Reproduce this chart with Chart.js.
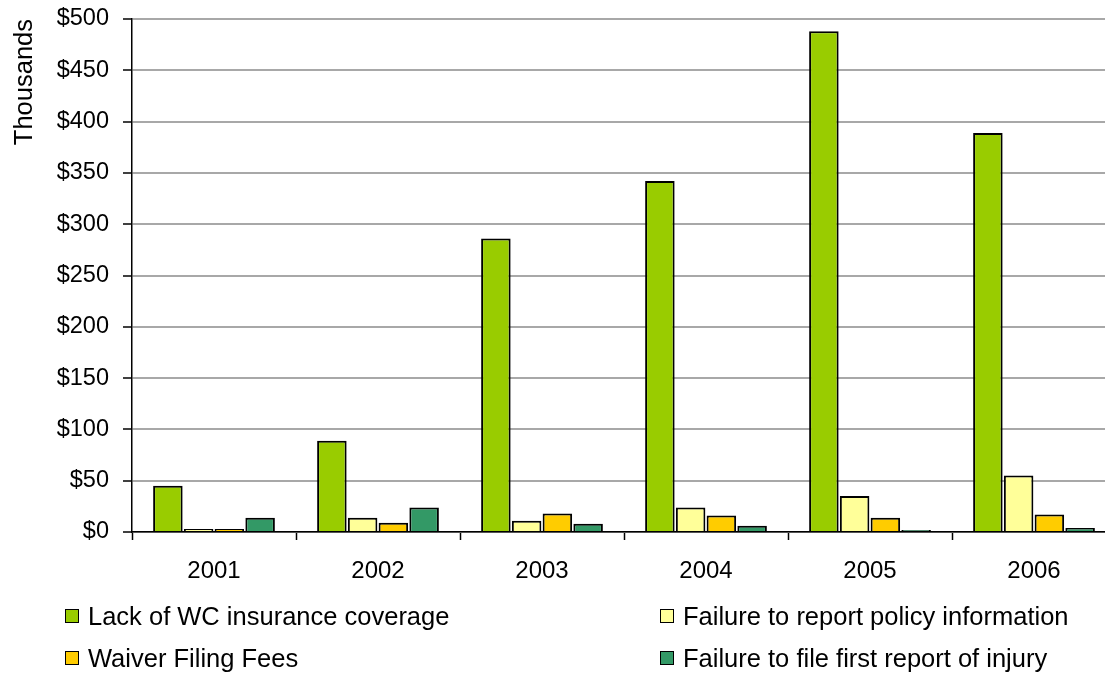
<!DOCTYPE html>
<html>
<head>
<meta charset="utf-8">
<script src="https://cdn.jsdelivr.net/npm/chart.js@4"></script>
<style>
  html, body { margin: 0; padding: 0; background: #fff; overflow: hidden; width: 1105px; height: 673px; }
  #wrap { position: absolute; left: 0; top: 0; width: 1116px; height: 600px; }
  #legend { position: absolute; left: 0; top: 0; width: 1105px; height: 673px; pointer-events: none;
            font-family: "Liberation Sans", Arial, sans-serif; font-size: 25.5px; color: #000; }
  .item { position: absolute; height: 30px; line-height: 30px; white-space: nowrap; }
  .box { position: absolute; left: 0; top: 8px; width: 12px; height: 12px; border: 1.5px solid #000; }
  .lbl { position: absolute; left: 23px; top: 0; }
</style>
</head>
<body>
<div id="wrap"><canvas id="c" width="1116" height="600"></canvas></div>
<div id="legend"></div>
<script>
const categories = ['2001', '2002', '2003', '2004', '2005', '2006'];
const seriesNames = [
  'Lack of WC insurance coverage',
  'Failure to report policy information',
  'Waiver Filing Fees',
  'Failure to file first report of injury'
];
const lackOfCoverage = [45, 89, 286, 342, 488, 389];
const failureReportPolicy = [3, 14, 11, 24, 35, 55];
const waiverFilingFees = [3, 9, 18, 16, 14, 17];
const failureFirstReport = [14, 24, 8, 6, 2, 4];
const seriesColors = ['#99CC00', '#FFFF99', '#FFCC00', '#339966'];
const yTickMin = 0, yTickMax = 500, yTickStep = 50;
const yTitle = 'Thousands';

const seriesValues = [lackOfCoverage, failureReportPolicy, waiverFilingFees, failureFirstReport];
const datasets = seriesValues.map((vals, i) => ({
  label: seriesNames[i],
  data: vals,
  backgroundColor: seriesColors[i],
  borderColor: '#000',
  borderWidth: 2,
  borderSkipped: 'bottom',
  categoryPercentage: 0.75,
  barPercentage: 0.96
}));

const FONT = '"Liberation Sans", Arial, sans-serif';

new Chart(document.getElementById('c'), {
  type: 'bar',
  data: { labels: categories, datasets },
  options: {
    responsive: false,
    animation: false,
    devicePixelRatio: 1,
    layout: { padding: { top: 19, left: 0, right: 0, bottom: 0 } },
    plugins: { legend: { display: false }, tooltip: { enabled: false } },
    scales: {
      x: {
        grid: { display: true, drawOnChartArea: false, drawTicks: true, tickLength: 8, tickColor: '#000', tickWidth: 1.5, offset: true },
        border: { display: true, color: '#000', width: 1.5 },
        ticks: { color: '#000', font: { family: FONT, size: 24 }, padding: 17, maxRotation: 0 },
        afterFit: (s) => { s.height = 68; s.paddingLeft = 0; s.paddingRight = 0; }
      },
      y: {
        min: yTickMin, max: yTickMax,
        grid: { color: '#a8a8a8', lineWidth: 2, tickColor: '#000', tickWidth: 1.5, tickLength: 9 },
        border: { display: true, color: '#000', width: 1.5 },
        ticks: { stepSize: yTickStep, color: '#000', font: { family: FONT, size: 23.5 }, padding: 14,
                 callback: (v) => '$' + v },
        title: { display: true, text: yTitle, align: 'end', color: '#000', font: { family: FONT, size: 25.5 }, padding: { top: 10, bottom: 0 } },
        afterFit: (s) => { s.width = 132; s.paddingTop = 0; s.paddingBottom = 0; }
      }
    }
  }
});

// HTML legend built from the series arrays (two aligned columns as in the reference)
const legendPos = [
  { left: 65, top: 601 }, { left: 660, top: 601 },
  { left: 65, top: 643 }, { left: 660, top: 643 }
];
const legendEl = document.getElementById('legend');
seriesNames.forEach((name, i) => {
  const it = document.createElement('div');
  it.className = 'item';
  it.style.left = legendPos[i].left + 'px';
  it.style.top = legendPos[i].top + 'px';
  const b = document.createElement('div');
  b.className = 'box';
  b.style.background = seriesColors[i];
  const t = document.createElement('span');
  t.className = 'lbl';
  t.textContent = name;
  it.appendChild(b); it.appendChild(t);
  legendEl.appendChild(it);
});
</script>
</body>
</html>
